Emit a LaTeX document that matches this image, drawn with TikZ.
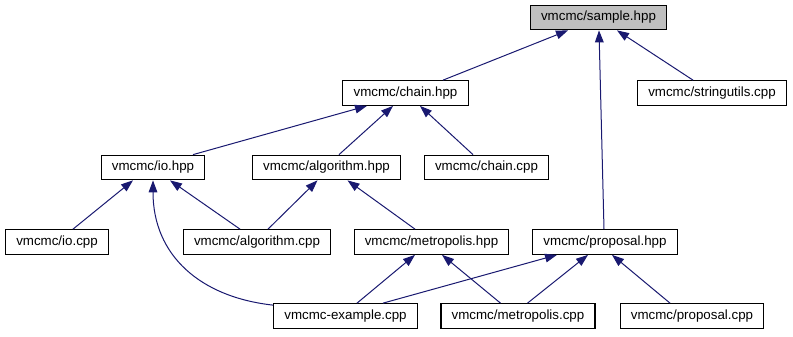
\documentclass[tikz,border=0pt]{standalone}
\usepackage{fontspec}
\setmainfont{Liberation Sans}
\usetikzlibrary{arrows.meta,calc}

\definecolor{edgeblue}{RGB}{25,25,112}
\definecolor{focusgray}{RGB}{191,191,191}

\tikzset{
  file/.style={draw=black, line width=0.8pt, fill=white, rectangle,
    inner xsep=8pt, inner ysep=0pt, minimum height=18.5pt,
    font=\fontsize{10pt}{12pt}\selectfont},
  focus/.style={file, fill=focusgray},
  dep/.style={draw=edgeblue, line width=0.75pt,
    {Triangle[length=9pt,width=6.5pt]}-},
}

\begin{document}
\begin{tikzpicture}[x=0.75pt,y=-0.75pt]
\useasboundingbox (0,0) rectangle (793,336);

% include hierarchy, one row per level
\node[focus] (sample)  at (598.5,17.5) {vmcmc/sample.hpp};

\node[file] (chainh)   at (405.5,93)  {vmcmc/chain.hpp};
\node[file] (strutil)  at (712,93)    {vmcmc/stringutils.cpp};

\node[file] (ioh)      at (153,167.5)   {vmcmc/io.hpp};
\node[file] (algoh)    at (326.5,167.5) {vmcmc/algorithm.hpp};
\node[file] (chainc)   at (486.5,167.5) {vmcmc/chain.cpp};

\node[file] (ioc)      at (57,242)    {vmcmc/io.cpp};
\node[file] (algoc)    at (257,242)   {vmcmc/algorithm.cpp};
\node[file] (metroh)   at (431.5,242) {vmcmc/metropolis.hpp};
\node[file] (proph)    at (605,242)   {vmcmc/proposal.hpp};

\node[file] (example)  at (345.5,316) {vmcmc-example.cpp};
\node[file] (metroc)   at (518,316)   {vmcmc/metropolis.cpp};
\node[file] (propc)    at (692,316)   {vmcmc/proposal.cpp};

% dependency edges, arrow at the included header
\draw[dep] ($(sample.south)+(-30.5,0)$) -- ($(chainh.north)+(37.5,0)$);
\draw[dep] ($(sample.south)+(0.5,0)$)   -- ($(proph.north)+(-1,0)$);
\draw[dep] ($(sample.south)+(18.5,0)$)  -- ($(strutil.north)+(-19,0)$);

\draw[dep] ($(chainh.south)+(-38.5,0)$) -- ($(ioh.north)+(40,0)$);
\draw[dep] ($(chainh.south)+(-12.5,0)$) -- ($(algoh.north)+(12.5,0)$);
\draw[dep] ($(chainh.south)+(14.5,0)$)  -- ($(chainc.north)+(-13.5,0)$);

\draw[dep] ($(ioh.south)+(-20,0)$) -- ($(ioc.north)+(16,0)$);
\draw[dep] ($(ioh.south)+(17,0)$)  -- ($(algoc.north)+(-17,0)$);
\draw[dep] (ioh.south) .. controls ($(ioh.south)+(0,75)$) and ($(example.north west)+(-73,-6)$) .. ($(example.north west)+(0,2)$);

\draw[dep] ($(algoh.south)+(-9,0)$) -- ($(algoc.north)+(11,0)$);
\draw[dep] ($(algoh.south)+(21,0)$) -- ($(metroh.north)+(-16.5,0)$);

\draw[dep] ($(metroh.south)+(-16.5,0)$) -- ($(example.north)+(11.5,0)$);
\draw[dep] ($(metroh.south)+(10.5,0)$)  -- ($(metroc.north)+(-17.5,0)$);

\draw[dep] ($(proph.south)+(-48,0)$) -- ($(example.north)+(37.5,0)$);
\draw[dep] ($(proph.south)+(-17,0)$) -- ($(metroc.north)+(9.5,0)$);
\draw[dep] ($(proph.south)+(7,0)$)   -- ($(propc.north)+(-22,0)$);
\end{tikzpicture}
\end{document}
